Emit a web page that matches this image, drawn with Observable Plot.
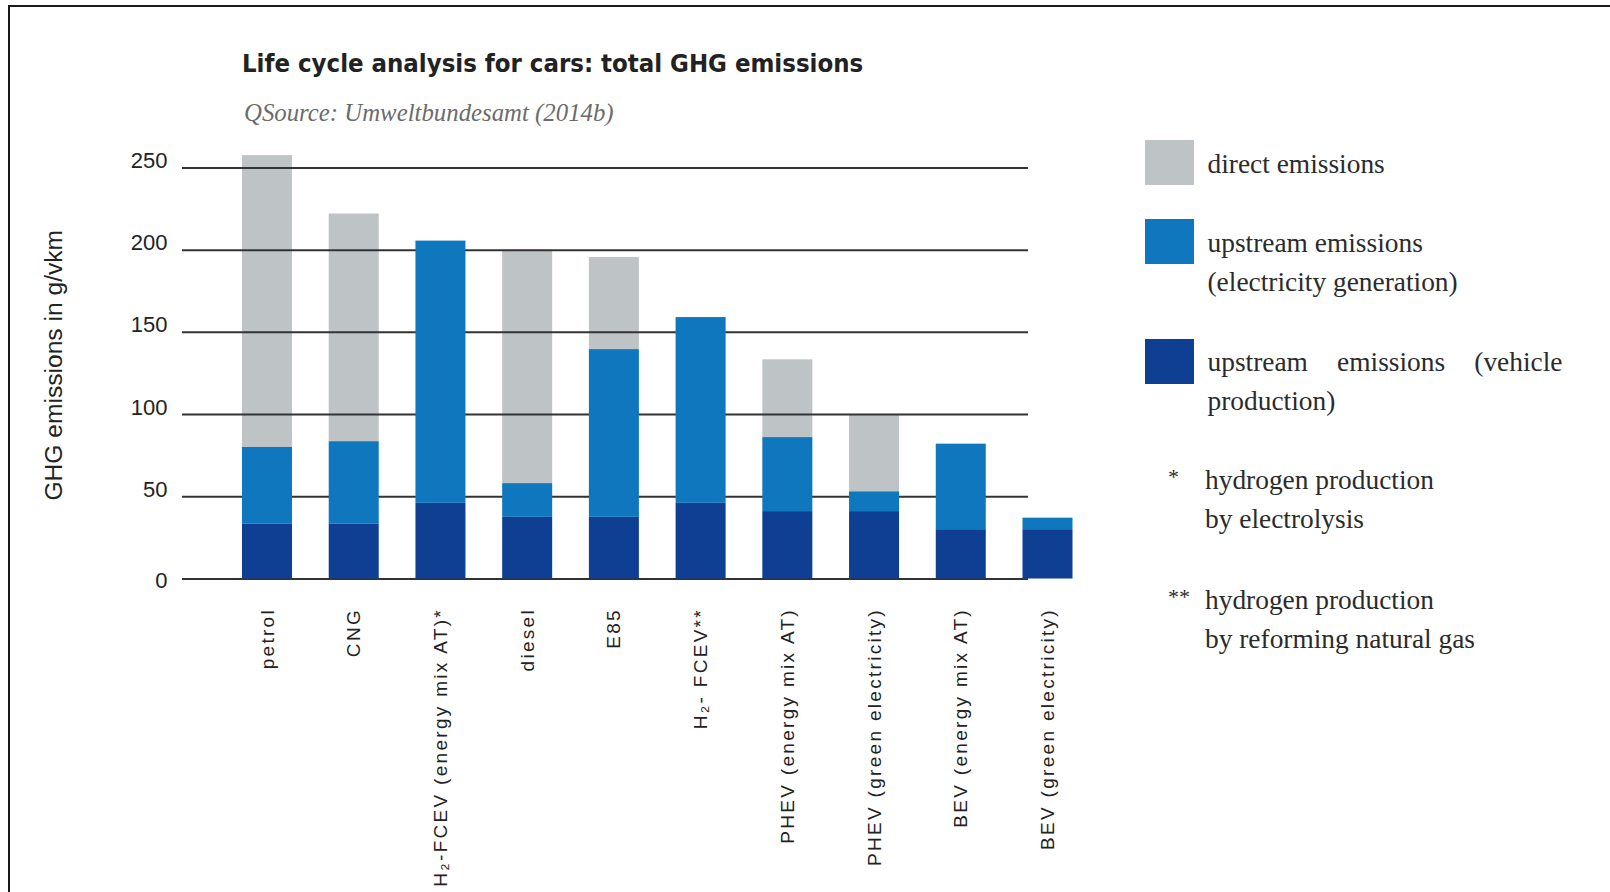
<!DOCTYPE html>
<html>
<head>
<meta charset="utf-8">
<script src="https://cdn.jsdelivr.net/npm/d3@7"></script>
<script src="https://cdn.jsdelivr.net/npm/@observablehq/plot@0.6"></script>
<style>
  html, body { margin: 0; padding: 0; background: #fff; width: 1610px; height: 892px; overflow: hidden; }
  #frame { position: absolute; left: 8px; top: 5px; width: 1700px; height: 1000px;
           border-top: 2px solid #1a1a1a; border-left: 2px solid #1a1a1a; }
  #chart { position: absolute; left: 0; top: 0; }
  #title { position: absolute; left: 242px; top: 45px; line-height: 36px; white-space: nowrap;
           font-family: "DejaVu Sans Condensed", "DejaVu Sans", sans-serif; font-weight: bold;
           font-size: 25.5px; color: #222; }
  #subtitle { position: absolute; left: 244px; top: 97px; line-height: 32px; white-space: nowrap;
              font-family: "Liberation Serif", serif; font-style: italic; font-size: 24.8px; color: #6b6b6b; }
  .lg { position: absolute; font-family: "Liberation Serif", serif; font-size: 27.4px; line-height: 39px; color: #2b2b2b; }
  .sw { position: absolute; left: 1145px; width: 49px; height: 45px; }
  .star { position: absolute; font-family: "Liberation Serif", serif; font-size: 22px; color: #2b2b2b; line-height: 39px; }
  g[aria-label="x-axis tick label"] text { letter-spacing: 2.3px; }
</style>
</head>
<body>
<div id="frame"></div>
<div id="chart"></div>
<div id="title">Life cycle analysis for cars: total GHG emissions</div>
<div id="subtitle">QSource: Umweltbundesamt (2014b)</div>
<div id="legend"></div>
<script>
// ---- data (g/vkm) ----
const cars = [
  "petrol", "CNG", "H₂-FCEV (energy mix AT)*", "diesel", "E85", "H₂- FCEV**",
  "PHEV (energy mix AT)", "PHEV (green electricity)", "BEV (energy mix AT)", "BEV (green electricity)"
];
const vehicleProduction     = [33.5, 33.5, 46, 37.5, 37.5, 46, 41, 41, 30, 30];
const electricityGeneration = [46.5, 50, 159.5, 20.5, 102, 113, 45, 12, 52, 7];
const directEmissions       = [177.5, 138.5, 0, 142, 56, 0, 47.3, 46.5, 0, 0];
const yTicks = [0, 50, 100, 150, 200, 250];
const seriesNames = ["upstream emissions (vehicle production)", "upstream emissions (electricity generation)", "direct emissions"];
const seriesColors = ["#0f3f93", "#0e77bd", "#bec3c6"];
const yLabel = "GHG emissions in g/vkm";
const legendItems = [
  {series: 2, lines: ["direct emissions"]},
  {series: 1, lines: ["upstream emissions", "(electricity generation)"]},
  {series: 0, lines: ["upstream emissions (vehicle production)"]}
];
const footnotes = [
  {mark: "*", lines: ["hydrogen production", "by electrolysis"]},
  {mark: "**", lines: ["hydrogen production", "by reforming natural gas"]}
];

// ---- build tables ----
const rows = cars.map((c, i) => ({car: c, veh: vehicleProduction[i], elec: electricityGeneration[i], direct: directEmissions[i]}));
const upstream = rows.flatMap(r => [
  {car: r.car, series: seriesNames[0], value: r.veh},
  {car: r.car, series: seriesNames[1], value: r.elec}
]);

const chart = Plot.plot({
  width: 1100,
  height: 892,
  marginTop: 151,
  marginBottom: 313.5,
  marginLeft: 242,
  marginRight: 27.5,
  x: {domain: cars, paddingInner: 0.4234, paddingOuter: 0, round: false, label: null},
  y: {domain: [0, 260], label: null},
  color: {domain: seriesNames, range: seriesColors},
  style: {fontFamily: "'Liberation Sans', Arial, sans-serif", color: "#222", background: "transparent", overflow: "visible"},
  marks: [
    Plot.barY(rows, {x: "car", y1: d => d.veh + d.elec, y2: d => d.veh + d.elec + d.direct, fill: () => seriesNames[2]}),
    Plot.ruleY(yTicks, {stroke: "#333", strokeWidth: 2, insetLeft: -60, insetRight: 44.5}),
    Plot.barY(upstream, {x: "car", y: "value", fill: "series"}),
    Plot.axisY({ticks: yTicks.filter(t => t > 0), tickSize: 0, tickPadding: 75, dy: -7, fontSize: 22, label: null}),
    Plot.axisY({ticks: [0], tickSize: 0, tickPadding: 75, dy: 2, fontSize: 22, label: null}),
    Plot.axisX({tickRotate: -90, tickSize: 0, tickPadding: 29, fontSize: 19, label: null}),
    Plot.text([yLabel], {frameAnchor: "left", textAnchor: "middle", dx: -188.5, rotate: -90, fontSize: 24.6, fill: "#222"})
  ]
});
document.getElementById("chart").appendChild(chart);

// ---- legend (HTML) ----
const legend = document.getElementById("legend");
const swTops = [140, 219, 339];
const txtTops = [144.5, 223.5, 343];
legendItems.forEach((item, k) => {
  const sw = document.createElement("div");
  sw.className = "sw";
  sw.style.top = swTops[k] + "px";
  sw.style.background = seriesColors[item.series];
  legend.appendChild(sw);
  const t = document.createElement("div");
  t.className = "lg";
  t.style.left = "1207.5px";
  t.style.top = txtTops[k] + "px";
  if (k === 2) { t.style.width = "355px"; t.style.textAlign = "justify"; t.textContent = item.lines[0]; }
  else { t.style.whiteSpace = "nowrap"; t.innerHTML = item.lines.join("<br>"); }
  legend.appendChild(t);
});
const fnTops = [461, 581];
footnotes.forEach((f, k) => {
  const s = document.createElement("div");
  s.className = "star";
  s.style.left = "1168px";
  s.style.top = (fnTops[k] - 4) + "px";
  s.textContent = f.mark;
  legend.appendChild(s);
  const t = document.createElement("div");
  t.className = "lg";
  t.style.left = "1205px";
  t.style.top = fnTops[k] + "px";
  t.style.whiteSpace = "nowrap";
  t.innerHTML = f.lines.join("<br>");
  legend.appendChild(t);
});
</script>
</body>
</html>
